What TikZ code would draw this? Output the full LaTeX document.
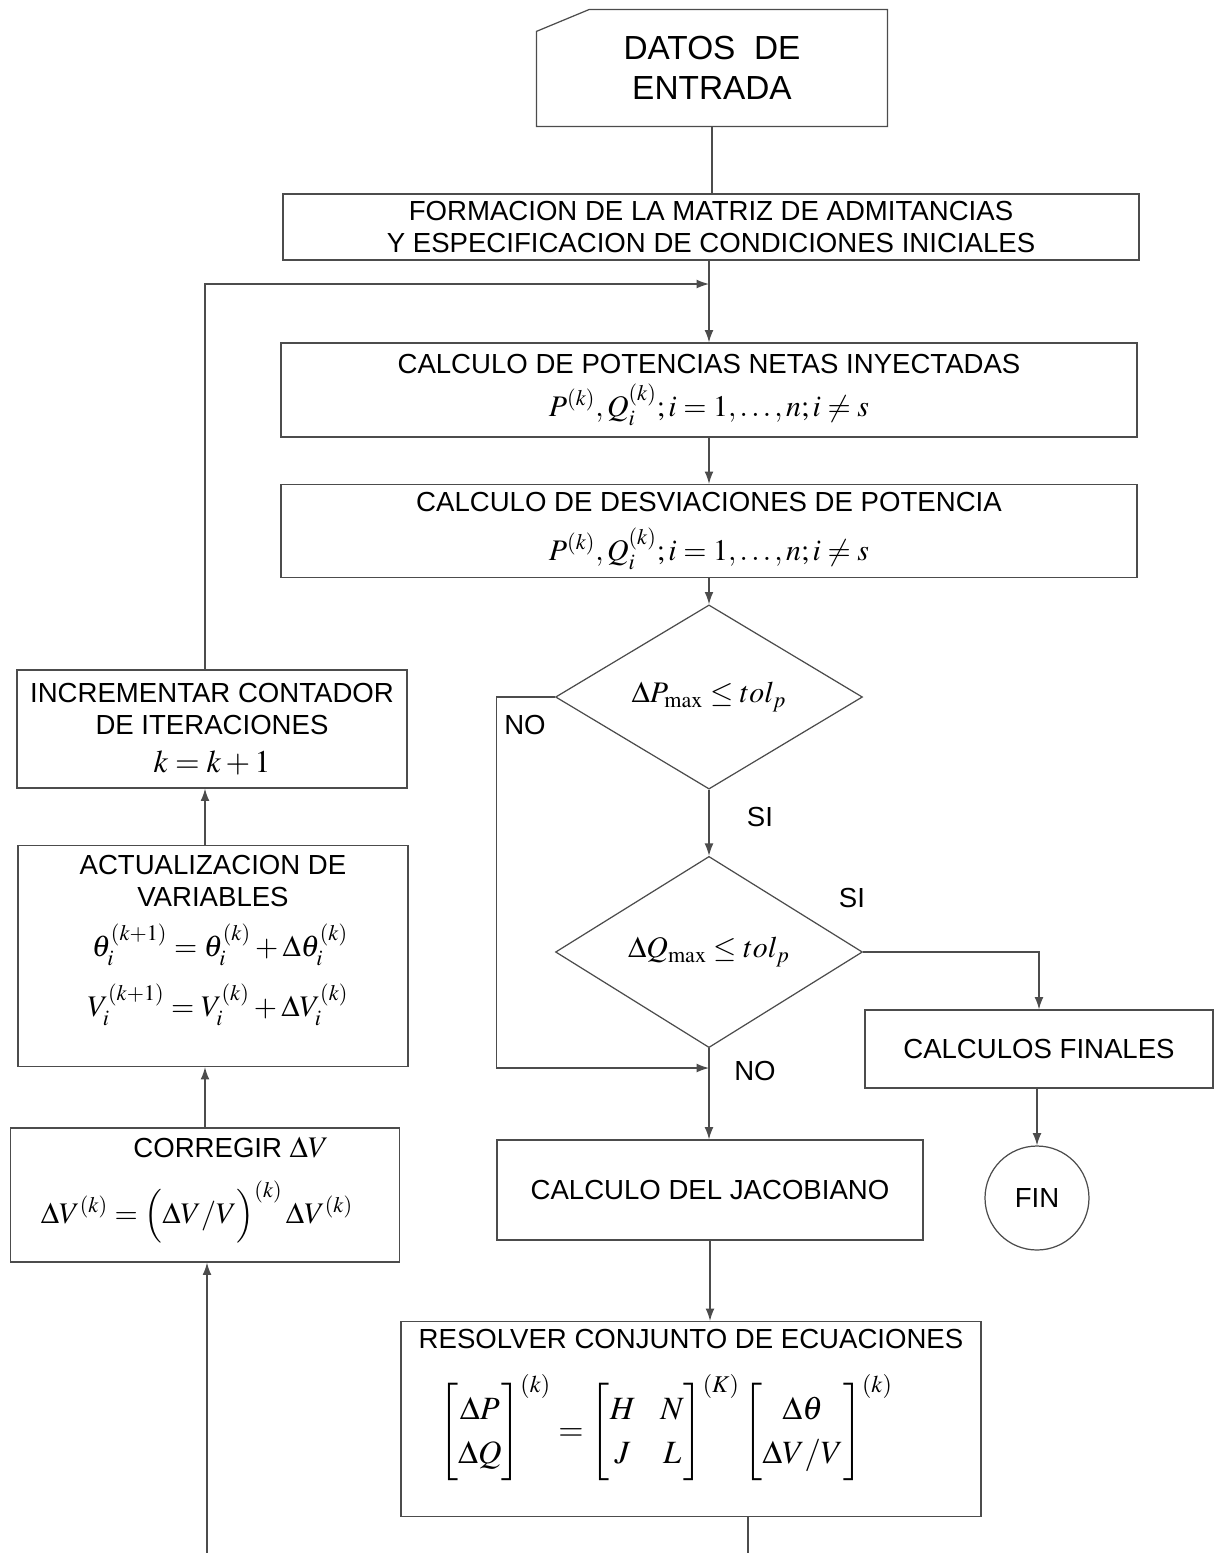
\documentclass[tikz,border=0pt]{standalone}
\usepackage{amsmath}
\usepackage{mathptmx}
\usepackage[no-math]{fontspec}
\setmainfont{Liberation Sans}
\usetikzlibrary{shapes.geometric,arrows.meta,calc}

\newcommand{\boxtxt}{\fontsize{15.7}{18.5}\selectfont}
\newcommand{\eqtxt}{\fontsize{17}{20}\selectfont}

\begin{document}
\begin{tikzpicture}[x=0.02cm,y=-0.02cm,
    box/.style={draw=black!70, line width=0.7pt, align=center, font=\boxtxt, inner sep=2pt},
    decision/.style={diamond, draw=black!70, line width=0.7pt, inner sep=0pt, font=\eqtxt},
    flow/.style={draw=black!70, line width=0.7pt, -{Latex[length=7pt,width=5pt]}},
    link/.style={draw=black!70, line width=0.7pt},
    lbl/.style={font=\boxtxt, inner sep=1pt},
    eq/.style={font=\eqtxt, inner sep=0pt}]
\useasboundingbox (0,0) rectangle (1216,1553);

% Main column
\node[box, draw=none, minimum width=7cm, minimum height=2.32cm, font=\fontsize{19}{23}\selectfont] (datos) at (712,68) {DATOS\ \ DE\\ENTRADA};
\draw[link] ($(datos.north west)+(0,22)$) -- ($(datos.north west)+(53,0)$) -- (datos.north east) -- (datos.south east) -- (datos.south west) -- cycle;
\node[box, minimum width=17.12cm, minimum height=1.32cm] (form) at (711,227) {FORMACION DE LA MATRIZ DE ADMITANCIAS\\Y ESPECIFICACION DE CONDICIONES INICIALES};
\node[box, minimum width=17.12cm, minimum height=1.88cm] (pot) at (709,390) {CALCULO DE POTENCIAS NETAS INYECTADAS\\[5pt] {\eqtxt $P^{(k)},Q_i^{(k)};i=1,\ldots,n;i\neq s$}};
\node[box, minimum width=17.12cm, minimum height=1.86cm] (desv) at (709,531) {CALCULO DE DESVIACIONES DE POTENCIA\\[8pt] {\eqtxt $P^{(k)},Q_i^{(k)};i=1,\ldots,n;i\neq s$}};
\node[decision, minimum width=6.14cm, minimum height=3.14cm] (dp) at (709,697) {$\Delta P_{\max}\le tol_p$};
\node[decision, minimum width=6.14cm, minimum height=3.14cm] (dq) at (709,952) {$\Delta Q_{\max}\le tol_p$};
\node[box, minimum width=8.52cm, minimum height=2cm] (jac) at (710,1190) {CALCULO DEL JACOBIANO};
\node[box, minimum width=11.6cm, minimum height=3.9cm] (resol) at (691,1419) {};
\node[lbl] (resol-t) at (691,1339) {RESOLVER CONJUNTO DE ECUACIONES};
\node[eq, font=\fontsize{18.5}{22}\selectfont] (resol-eq) at (666,1428) {\renewcommand{\arraystretch}{1.15}$\begin{bmatrix}\Delta P\\ \Delta Q\end{bmatrix}^{(k)}=\begin{bmatrix}H & \;N\\ J & \;L\end{bmatrix}^{(K)}\begin{bmatrix}\Delta\theta\\ \Delta V/V\end{bmatrix}^{(k)}$};

% Right branch
\node[box, minimum width=6.96cm, minimum height=1.56cm] (calcf) at (1039,1049) {CALCULOS FINALES};
\node[circle, draw=black!70, line width=0.7pt, minimum size=2.08cm, font=\boxtxt] (fin) at (1037,1198) {FIN};

% Left column
\node[box, minimum width=7.8cm, minimum height=2.36cm] (inc) at (212,729) {INCREMENTAR CONTADOR\\DE ITERACIONES\\[3pt] {\fontsize{18}{20}\selectfont $k=k+1$}};
\node[box, minimum width=7.8cm, minimum height=4.42cm] (act) at (213,956) {};
\node[lbl, align=center] (act-t) at (213,881) {ACTUALIZACION DE\\VARIABLES};
\node[eq] (act-eq1) at (220,945) {$\theta_i^{(k+1)}=\theta_i^{(k)}+\Delta\theta_i^{(k)}$};
\node[eq] (act-eq2) at (218,1005) {$V_i^{(k+1)}=V_i^{(k)}+\Delta V_i^{(k)}$};
\node[box, minimum width=7.78cm, minimum height=2.68cm] (corr) at (205,1195) {};
\node[lbl] (corr-t) at (231,1148) {CORREGIR {\eqtxt $\Delta V$}};
\node[eq] (corr-eq) at (197,1212) {$\Delta V^{(k)}=\Bigl(\Delta V/V\Bigr)^{(k)}\,\Delta V^{(k)}$};

% Labels
\node[lbl] (no1) at (525,725) {NO};
\node[lbl] (si1) at (760,817) {SI};
\node[lbl] (si2) at (852,898) {SI};
\node[lbl] (no2) at (755,1071) {NO};

% Connectors
\coordinate (lcol) at (205,0);
\coordinate (merge) at (709,284);
\coordinate (join) at (709,1068);
\coordinate (endL) at (207,1553);
\coordinate (endR) at (748,1553);
\draw[link] (datos.south) -- (datos.south |- form.north);
\draw[flow] (form.south -| pot.north) -- (pot.north);
\draw[flow] (pot.south) -- (desv.north);
\draw[flow] (desv.south) -- (dp.north);
\draw[flow] (dp.south) -- (dq.north);
\draw[flow] (dp.west) -- (dp.west -| jac.west) |- (join);
\draw[flow] (dq.east) -| (calcf.north);
\draw[flow] (dq.south) -- (dq.south |- jac.north);
\draw[flow] (calcf.south -| fin.north) -- (fin.north);
\draw[flow] (jac.south) -- (jac.south |- resol.north);
\draw[link] (resol.south -| endR) -- (endR);
\draw[flow] (endL) -- (endL |- corr.south);
\draw[flow] (corr.north -| lcol) -- (lcol |- act.south);
\draw[flow] (act.north -| lcol) -- (lcol |- inc.south);
\draw[flow] (inc.north -| lcol) |- (merge);
\end{tikzpicture}
\end{document}
